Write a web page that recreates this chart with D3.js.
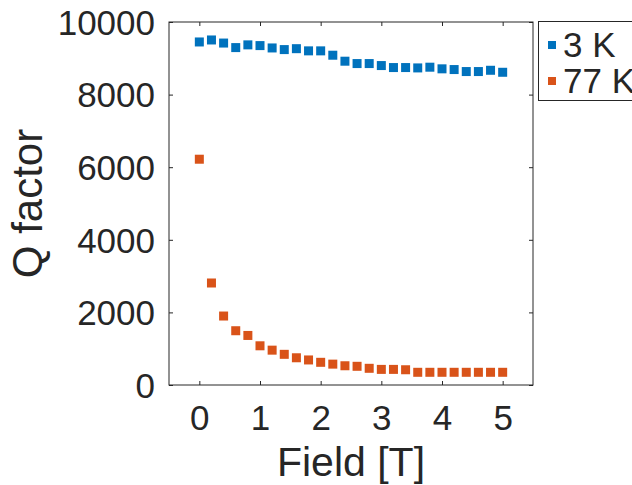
<!DOCTYPE html>
<html>
<head>
<meta charset="utf-8">
<script src="https://cdn.jsdelivr.net/npm/d3@7"></script>
<style>
  body { margin: 0; background: #fff; }
  text { font-family: "Liberation Sans", Arial, Helvetica, sans-serif; fill: #262626; }
</style>
</head>
<body>
<div id="chart"></div>
<script>
// field values (T)
const fields = [0, 0.2, 0.4, 0.6, 0.8, 1, 1.2, 1.4, 1.6, 1.8, 2, 2.2, 2.4, 2.6, 2.8, 3, 3.2, 3.4, 3.6, 3.8, 4, 4.2, 4.4, 4.6, 4.8, 5];
// Q factor at 3 K
const q3K = [9450, 9505, 9420, 9295, 9370, 9350, 9285, 9240, 9265, 9205, 9205, 9085, 8920, 8855, 8855, 8800, 8745, 8745, 8735, 8755, 8710, 8690, 8635, 8635, 8670, 8615];
// Q factor at 77 K
const q77K = [6220, 2810, 1900, 1495, 1365, 1080, 960, 845, 750, 690, 625, 575, 530, 515, 460, 430, 430, 420, 350, 350, 350, 350, 350, 350, 350, 350];
const seriesNames = ["3 K", "77 K"];
const seriesColors = ["#0072BD", "#D95319"];
const xTicks = [0, 1, 2, 3, 4, 5];
const yTicks = [0, 2000, 4000, 6000, 8000, 10000];

const W = 632, H = 485;
const margin = {top: 22, right: 99, bottom: 100, left: 169},
	width = W - margin.left - margin.right,
	height = H - margin.top - margin.bottom;

const svg = d3.select("#chart")
	.append("svg")
	.attr("width", W)
	.attr("height", H);

const g = svg.append("g")
	.attr("transform", "translate(" + margin.left + "," + margin.top + ")");

const x = d3.scaleLinear().domain([-0.5, 5.5]).range([0, width]);
const y = d3.scaleLinear().domain([0, 10000]).range([height, 0]);

const axisColor = "#262626";
const tickLen = 4;

// box
g.append("rect")
	.attr("width", width)
	.attr("height", height)
	.attr("fill", "none")
	.attr("stroke", axisColor)
	.attr("stroke-width", 1);

// bottom axis with labels, ticks inward
const xAxis = g.append("g")
	.attr("transform", "translate(0," + height + ")")
	.call(d3.axisBottom(x).tickValues(xTicks).tickSize(-tickLen).tickPadding(20).tickFormat(d3.format("d")));
// top ticks
const xTop = g.append("g")
	.call(d3.axisTop(x).tickValues(xTicks).tickSize(-tickLen).tickFormat(""));
const yAxis = g.append("g")
	.call(d3.axisLeft(y).tickValues(yTicks).tickSize(-tickLen).tickPadding(14).tickFormat(d3.format("d")));
const yRight = g.append("g")
	.attr("transform", "translate(" + width + ",0)")
	.call(d3.axisRight(y).tickValues(yTicks).tickSize(-tickLen).tickFormat(""));

[xAxis, xTop, yAxis, yRight].forEach(a => {
	a.select(".domain").remove();
	a.selectAll("line").attr("stroke", axisColor);
	a.selectAll("text").style("font-size", "35px").attr("fill", axisColor);
});
xAxis.selectAll("text").attr("dy", "0.71em").attr("y", 20);
yAxis.selectAll("text").attr("dy", "0.35em");

// axis titles
g.append("text")
	.attr("x", width / 2)
	.attr("y", height + 91)
	.attr("text-anchor", "middle")
	.style("font-size", "41px")
	.text("Field [T]");

g.append("text")
	.attr("transform", "rotate(-90)")
	.attr("x", -height / 2)
	.attr("y", -127)
	.attr("text-anchor", "middle")
	.style("font-size", "42px")
	.text("Q factor");

// markers
const ms = 9;
[q3K, q77K].forEach((vals, i) => {
	g.append("g").selectAll("rect")
		.data(vals.map((v, j) => [fields[j], v]))
		.enter().append("rect")
		.attr("x", d => x(d[0]) - ms / 2)
		.attr("y", d => y(d[1]) - ms / 2)
		.attr("width", ms)
		.attr("height", ms)
		.attr("fill", seriesColors[i]);
});

// legend
const legend = svg.append("g")
	.attr("transform", "translate(538,21)");
legend.append("rect")
	.attr("x", 0.5)
	.attr("y", 0.5)
	.attr("width", 120)
	.attr("height", 79)
	.attr("fill", "#fff")
	.attr("stroke", axisColor);

const items = legend.selectAll(".item")
	.data(seriesNames)
	.enter().append("g")
	.attr("class", "item")
	.attr("transform", (d, i) => "translate(0," + (24 + i * 36) + ")");
items.append("rect")
	.attr("x", 10)
	.attr("y", -4)
	.attr("width", 8)
	.attr("height", 8)
	.attr("fill", (d, i) => seriesColors[i]);
items.append("text")
	.attr("x", 25)
	.attr("dy", "0.35em")
	.style("font-size", "35px")
	.text(d => d);
</script>
</body>
</html>
